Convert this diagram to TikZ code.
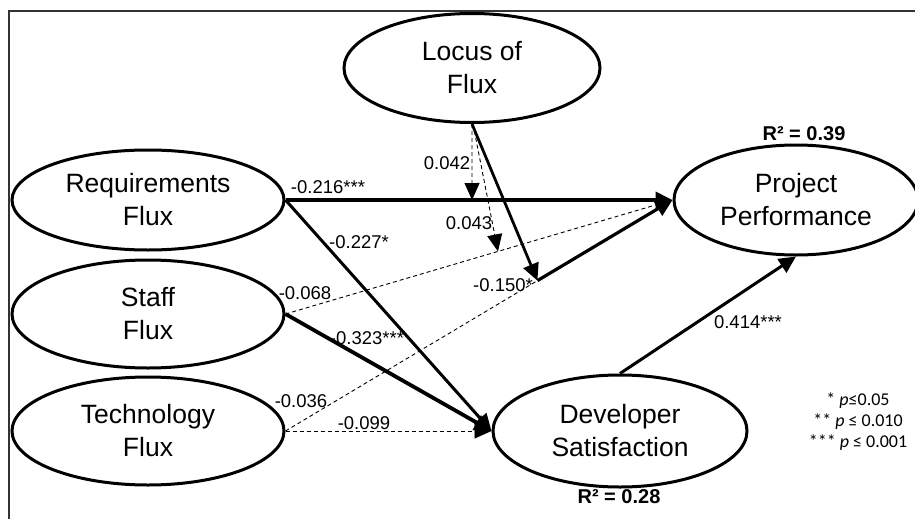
\documentclass[tikz,border=0pt]{standalone}
\usepackage{fontspec}
\setmainfont{Liberation Sans}
\newfontfamily\legfont{Carlito}
\usetikzlibrary{shapes.geometric,arrows.meta,calc}
\begin{document}
\begin{tikzpicture}[x=1pt,y=-1pt,
  latent/.style={draw, ellipse, line width=3pt, inner sep=0pt, align=center,
    font=\fontsize{26.5}{33}\selectfont},
  coef/.style={font=\fontsize{18.5}{22}\selectfont, inner sep=0pt},
  rsq/.style={font=\bfseries\fontsize{20}{24}\selectfont, inner sep=0pt},
  legend/.style={font=\legfont\fontsize{18}{21}\selectfont, align=center, inner sep=0pt},
  strong/.style={line width=3.2pt, -{Triangle[length=17pt,width=16pt]}},
  weak/.style={line width=0.9pt, dash pattern=on 4pt off 3pt},
  weakarrow/.style={weak, -{Triangle[length=17pt,width=15pt]}},
  frame/.style={line width=2pt, black!80}]
\useasboundingbox (0,0) rectangle (915,519);
\clip (0,0) rectangle (915,519);
\draw[frame] (9,11) rectangle (960,560);

% latent variables
\node[latent, minimum width=256pt, minimum height=109pt] (loc) at (472,68) {Locus of\\Flux};
\node[latent, minimum width=272pt, minimum height=100pt] (req) at (148,200) {Requirements\\Flux};
\node[latent, minimum width=272pt, minimum height=108pt] (staff) at (148,314) {Staff\\Flux};
\node[latent, minimum width=272pt, minimum height=108pt] (tech) at (148,431) {Technology\\Flux};
\node[latent, minimum width=244pt, minimum height=110pt] (pp) at (796,200) {Project\\Performance};
\node[latent, minimum width=254pt, minimum height=112pt] (ds) at (620,431) {Developer\\Satisfaction};

% moderation points
\coordinate (m1) at ($(req.east)!0.482!(pp.west)$);
\coordinate (m2) at ($(staff.east)!0.549!(pp.west)$);
\coordinate (m3) at ($(tech.east)!0.651!(pp.west)$);

% dashed (non-significant) paths
\draw[weak] (staff.east) -- (pp.west);
\draw[weak] (tech.east) -- (m3);
\draw[weakarrow] (tech.east) -- (ds.west);
\draw[weakarrow] (loc.south) -- (m1);
\draw[weakarrow] ([xshift=1pt]loc.south) -- (m2);

% significant paths
\draw[strong, line width=3.8pt] (req.east) -- (pp.west);
\draw[strong, line width=3pt] (req.east) -- (ds.west);
\draw[strong, line width=3.8pt] (staff.east) -- (ds.west);
\draw[strong, line width=2.8pt] (loc.south) -- (m3);
\draw[strong, line width=3.2pt] (m3) -- (pp.west);
\draw[strong, line width=3pt] (ds.north) -- (pp.south);

% coefficients
\node[coef] (c1) at (328,187) {-0.216***};
\node[coef] (c2) at (359,242) {-0.227*};
\node[coef] (c3) at (305,293) {-0.068};
\node[coef] (c4) at (367,338) {-0.323***};
\node[coef] (c5) at (301,401) {-0.036};
\node[coef] (c6) at (364,423) {-0.099};
\node[coef] (c7) at (447,163) {0.042};
\node[coef] (c8) at (469,223) {0.043};
\node[coef] (c9) at (503,285) {-0.150*};
\node[coef] (c10) at (748,322) {0.414***};

% R squared
\node[rsq] (r1) at (804,134) {R² = 0.39};
\node[rsq] (r2) at (619,497) {R² = 0.28};

% legend
\node[legend] (leg) at (858,422) {* \textit{p}≤0.05\\** \textit{p} ≤ 0.010\\*** \textit{p} ≤ 0.001};
\end{tikzpicture}
\end{document}
